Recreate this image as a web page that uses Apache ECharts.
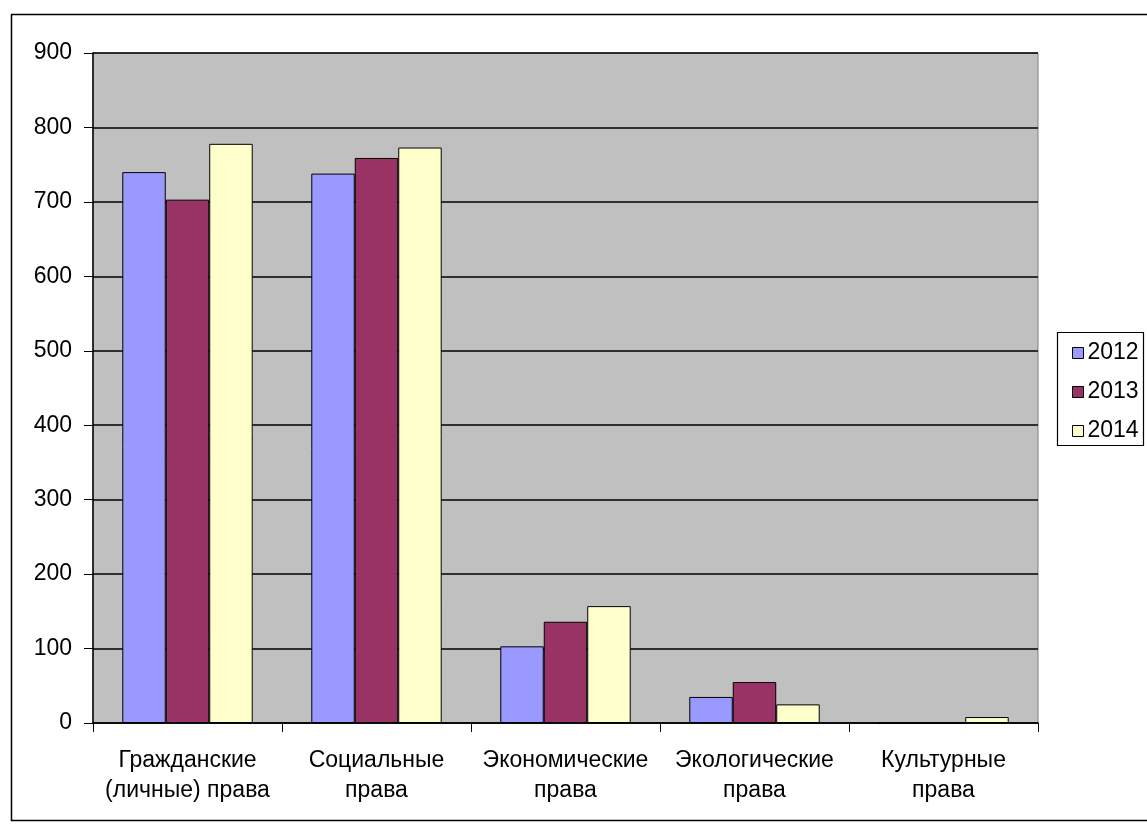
<!DOCTYPE html>
<html><head><meta charset="utf-8">
<script src="https://cdn.jsdelivr.net/npm/echarts@6/dist/echarts.min.js"></script>
<style>html,body{margin:0;padding:0;background:#fff}#c{width:1147px;height:828px}</style>
</head><body><div id="c"></div>
<script>
const categories = ['Гражданские\n(личные) права', 'Социальные\nправа', 'Экономические\nправа', 'Экологические\nправа', 'Культурные\nправа'];
const years = ['2012', '2013', '2014'];
const s2012 = [740, 738, 103, 35, 0];
const s2013 = [703, 759, 136, 55, 0];
const s2014 = [778, 773, 157, 25, 8];
const yTicks = [0, 100, 200, 300, 400, 500, 600, 700, 800, 900];
const colors = ['#9999FF', '#993366', '#FFFFCC'];

const chart = echarts.init(document.getElementById('c'));
const L = 93, T = 53, R = 1038, B = 723;
const font = 'Liberation Sans, Arial, sans-serif';
chart.setOption({
  animation: false,
  graphic: [
    {type: 'rect', shape: {x: 11.5, y: 14.5, width: 1150, height: 806}, style: {fill: 'none', stroke: '#000', lineWidth: 1.5}, z: 0},
    {type: 'rect', shape: {x: L, y: T, width: R - L, height: B - T}, style: {fill: '#C0C0C0', stroke: '#808080', lineWidth: 1}, z: -1, silent: true},
    {type: 'rect', shape: {x: 1057.5, y: 332.5, width: 86, height: 113}, style: {fill: '#fff', stroke: '#000', lineWidth: 1.2}, z: 0}
  ],
  legend: {
    orient: 'vertical', left: 1067, top: 335, itemGap: 13,
    itemWidth: 11, itemHeight: 11, icon: 'rect',
    textStyle: {fontFamily: font, fontSize: 23, color: '#000', lineHeight: 26, padding: [0,0,0,-1]},
    data: years.map((y, i) => ({name: y, itemStyle: {color: colors[i], borderColor: '#000', borderWidth: 1}}))
  },
  grid: {left: L, top: T, width: R - L, height: B - T, containLabel: false},
  xAxis: {
    type: 'category', data: categories,
    axisLine: {lineStyle: {color: '#000', width: 1.5}},
    axisTick: {show: true, length: 9, lineStyle: {color: '#000'}},
    axisLabel: {fontFamily: font, fontSize: 23, color: '#000', lineHeight: 30, margin: 23, interval: 0}
  },
  yAxis: {
    type: 'value', min: yTicks[0], max: yTicks[yTicks.length - 1], interval: 100,
    axisLine: {show: true, lineStyle: {color: '#000', width: 1.5}},
    axisTick: {show: true, length: 9, lineStyle: {color: '#000'}},
    axisLabel: {fontFamily: font, fontSize: 23, color: '#000', margin: 21},
    splitLine: {show: true, lineStyle: {color: '#000', width: 1.5}}
  },
  series: years.map((y, i) => ({
    name: y, type: 'bar',
    data: [s2012, s2013, s2014][i],
    barGap: '0%', barCategoryGap: '31%',
    itemStyle: {color: colors[i], borderColor: '#000', borderWidth: 1}
  }))
});
</script></body></html>
